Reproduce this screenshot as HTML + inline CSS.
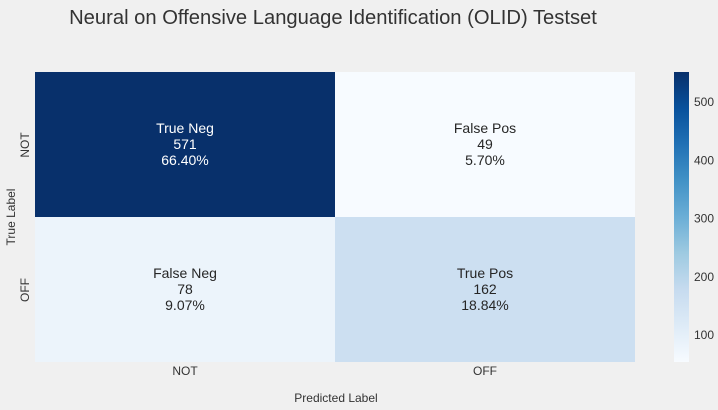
<!DOCTYPE html>
<html><head><meta charset="utf-8"><style>
html,body{margin:0;padding:0;background:#f0f0f0;}
svg{display:block;font-family:"Liberation Sans","DejaVu Sans",sans-serif;}
</style></head><body>
<svg id="c" width="718" height="410">
<defs><linearGradient id="cbg" x1="0" y1="1" x2="0" y2="0">
<stop offset="0" stop-color="#f7fbff"/><stop offset="0.125" stop-color="#deebf7"/><stop offset="0.25" stop-color="#c6dbef"/><stop offset="0.375" stop-color="#9ecae1"/><stop offset="0.5" stop-color="#6baed6"/><stop offset="0.625" stop-color="#4292c6"/><stop offset="0.75" stop-color="#2171b5"/><stop offset="0.875" stop-color="#08519c"/><stop offset="1" stop-color="#08306b"/>
</linearGradient></defs>
<text x="333" y="24" text-anchor="middle" font-size="20.2" fill="#333">Neural on Offensive Language Identification (OLID) Testset</text>
<g id="cells"></g>
<rect x="674" y="72" width="15" height="290" fill="url(#cbg)"/>
<g id="cbticks"></g>
<text x="185" y="375" text-anchor="middle" font-size="12" fill="#333">NOT</text>
<text x="485" y="375" text-anchor="middle" font-size="12" fill="#333">OFF</text>
<text transform="translate(29,145) rotate(-90)" text-anchor="middle" font-size="12" fill="#333">NOT</text>
<text transform="translate(29,290) rotate(-90)" text-anchor="middle" font-size="12" fill="#333">OFF</text>
<text x="336" y="402" text-anchor="middle" font-size="12" fill="#333">Predicted Label</text>
<text transform="translate(15,217) rotate(-90)" text-anchor="middle" font-size="12" fill="#333">True Label</text>
</svg>
<script>
const cellLabels = ["True Neg","False Pos","False Neg","True Pos"];
const cellValues = [571, 49, 78, 162];
const cellPercents = ["66.40%","5.70%","9.07%","18.84%"];
const cbTicks = [100,200,300,400,500];
const NS="http://www.w3.org/2000/svg";
const stops=["#f7fbff","#deebf7","#c6dbef","#9ecae1","#6baed6","#4292c6","#2171b5","#08519c","#08306b"];
const vmin=Math.min(...cellValues), vmax=Math.max(...cellValues);
function hex(h){return [1,3,5].map(i=>parseInt(h.substr(i,2),16));}
function color(v){let t=(v-vmin)/(vmax-vmin)*(stops.length-1);let i=Math.min(Math.floor(t),stops.length-2);let f=t-i;
 let a=hex(stops[i]),b=hex(stops[i+1]);return "rgb("+a.map((x,k)=>Math.round(x+(b[k]-x)*f)).join(",")+")";}
const x0=35,y0=72,cw=300,ch=145;
const g=document.getElementById("cells");
cellValues.forEach((v,i)=>{
 const r=Math.floor(i/2),c=i%2;
 const rect=document.createElementNS(NS,"rect");
 rect.setAttribute("x",x0+c*cw);rect.setAttribute("y",y0+r*ch);rect.setAttribute("width",cw);rect.setAttribute("height",ch);
 rect.setAttribute("fill",color(v));
 
 
 g.appendChild(rect);
 const tc=v>(vmin+vmax)/2?"#fff":"#262626";
 [cellLabels[i],String(v),cellPercents[i]].forEach((s,k)=>{
  const t=document.createElementNS(NS,"text");
  t.setAttribute("x",x0+c*cw+cw/2);t.setAttribute("y",y0+r*ch+61+k*16);
  t.setAttribute("text-anchor","middle");t.setAttribute("font-size","14");t.setAttribute("fill",tc);
  t.textContent=s;
  
  
  g.appendChild(t);
 });
});
const cb=document.getElementById("cbticks");
function cby(v){return 335-(v-100)*0.5825;}
cbTicks.forEach(v=>{
 const t=document.createElementNS(NS,"text");
 t.setAttribute("x",694);t.setAttribute("y",cby(v)+4);t.setAttribute("font-size","12");t.setAttribute("fill","#333");
 t.textContent=v;
 
 
 cb.appendChild(t);
});
</script>
</body></html>
